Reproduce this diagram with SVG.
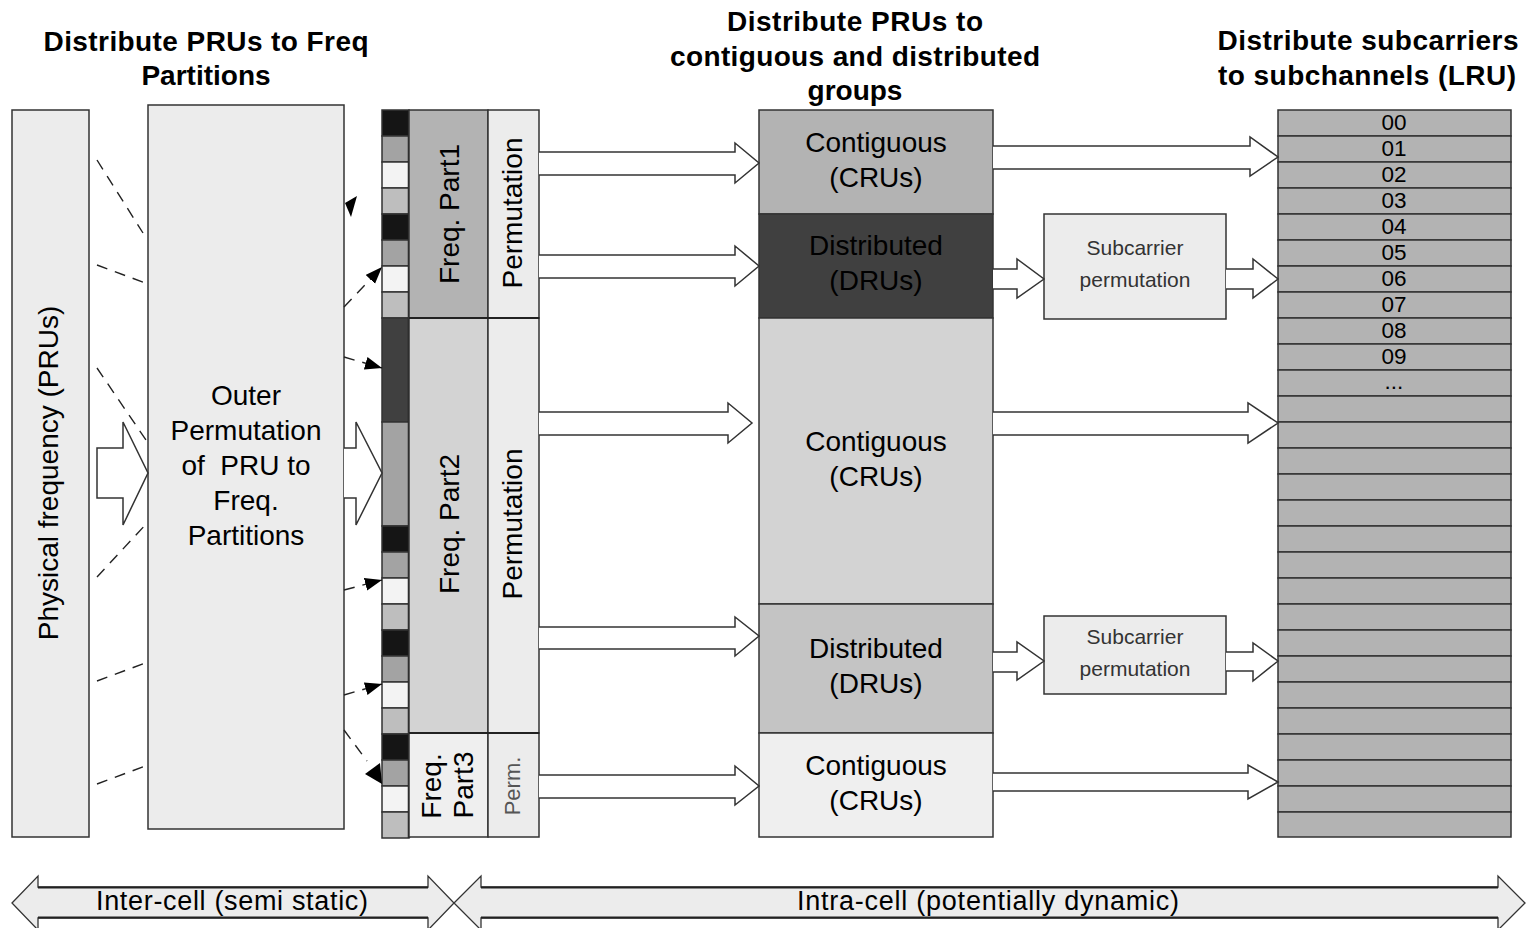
<svg xmlns="http://www.w3.org/2000/svg" width="1528" height="928" viewBox="0 0 1528 928">
<style>
text{font-family:"Liberation Sans",Arial,sans-serif;fill:#000}
.t{font-size:28px;font-weight:bold;text-anchor:middle}
.l{font-size:28px;text-anchor:middle}
.s{font-size:21px;text-anchor:middle;fill:#333}
.n{font-size:22.5px;text-anchor:middle}
.b{stroke:#333;stroke-width:1.5}
.ha{fill:#fff;stroke:#333;stroke-width:1.5}
.dash{fill:none;stroke:#222;stroke-width:1.4;stroke-dasharray:11 8}
.row{fill:#b3b3b3;stroke:#333;stroke-width:1.5}
</style>
<defs>
<marker id="ah" markerUnits="userSpaceOnUse" markerWidth="18" markerHeight="14" refX="17" refY="6.5" orient="auto">
<path d="M0,0 L17,6.5 L0,13 Z" fill="#000"/>
</marker>
</defs>
<rect width="1528" height="928" fill="#fff"/>

<g id="titles">
<text class="t" x="206" y="51" textLength="325">Distribute PRUs to Freq</text>
<text class="t" x="206" y="85">Partitions</text>
<text class="t" x="855" y="31" textLength="256">Distribute PRUs to</text>
<text class="t" x="855" y="66" textLength="370">contiguous and distributed</text>
<text class="t" x="855" y="100">groups</text>
<text class="t" x="1368" y="50" textLength="301">Distribute subcarriers</text>
<text class="t" x="1367" y="85" textLength="298">to subchannels (LRU)</text>
</g>

<g id="physical">
<rect class="b" x="12" y="110" width="77" height="727" fill="#ececec"/>
<text class="l" transform="translate(58,473) rotate(-90)">Physical frequency (PRUs)</text>
</g>

<g id="outer">
<rect class="b" x="148" y="105" width="196" height="724" fill="#ececec"/>
<text class="l" x="246" y="405">Outer</text>
<text class="l" x="246" y="440">Permutation</text>
<text class="l" x="246" y="475" xml:space="preserve">of  PRU to</text>
<text class="l" x="246" y="510">Freq.</text>
<text class="l" x="246" y="545">Partitions</text>
</g>

<g id="strip">
<rect class="b" x="382" y="110" width="27" height="26" fill="#151515"/>
<rect class="b" x="382" y="136" width="27" height="26" fill="#a3a3a3"/>
<rect class="b" x="382" y="162" width="27" height="26" fill="#f3f3f3"/>
<rect class="b" x="382" y="188" width="27" height="26" fill="#bebebe"/>
<rect class="b" x="382" y="214" width="27" height="26" fill="#151515"/>
<rect class="b" x="382" y="240" width="27" height="26" fill="#a3a3a3"/>
<rect class="b" x="382" y="266" width="27" height="26" fill="#f3f3f3"/>
<rect class="b" x="382" y="292" width="27" height="26" fill="#bebebe"/>
<rect class="b" x="382" y="318" width="27" height="104" fill="#404040"/>
<rect class="b" x="382" y="422" width="27" height="104" fill="#a3a3a3"/>
<rect class="b" x="382" y="526" width="27" height="26" fill="#151515"/>
<rect class="b" x="382" y="552" width="27" height="26" fill="#a3a3a3"/>
<rect class="b" x="382" y="578" width="27" height="26" fill="#f3f3f3"/>
<rect class="b" x="382" y="604" width="27" height="26" fill="#bebebe"/>
<rect class="b" x="382" y="630" width="27" height="26" fill="#151515"/>
<rect class="b" x="382" y="656" width="27" height="26" fill="#a3a3a3"/>
<rect class="b" x="382" y="682" width="27" height="26" fill="#f3f3f3"/>
<rect class="b" x="382" y="708" width="27" height="26" fill="#bebebe"/>
<rect class="b" x="382" y="734" width="27" height="26" fill="#151515"/>
<rect class="b" x="382" y="760" width="27" height="26" fill="#a3a3a3"/>
<rect class="b" x="382" y="786" width="27" height="26" fill="#f3f3f3"/>
<rect class="b" x="382" y="812" width="27" height="26" fill="#bebebe"/>
<line x1="409" y1="110" x2="409" y2="838" stroke="#222" stroke-width="2.5"/>
</g>

<g id="part1">
<rect class="b" x="409" y="110" width="79" height="208" fill="#b3b3b3"/>
<rect class="b" x="488" y="110" width="51" height="208" fill="#ececec"/>
<text class="l" transform="translate(459,214) rotate(-90)">Freq. Part1</text>
<text class="l" transform="translate(522,213) rotate(-90)">Permutation</text>
</g>
<g id="part2">
<rect class="b" x="409" y="318" width="79" height="415" fill="#d3d3d3"/>
<rect class="b" x="488" y="318" width="51" height="415" fill="#ececec"/>
<text class="l" transform="translate(459,524) rotate(-90)">Freq. Part2</text>
<text class="l" transform="translate(522,524) rotate(-90)">Permutation</text>
</g>
<g id="part3">
<rect class="b" x="409" y="733" width="79" height="104" fill="#efefef"/>
<rect class="b" x="488" y="733" width="51" height="104" fill="#ececec"/>
<text class="l" transform="translate(441,786) rotate(-90)">Freq.</text>
<text class="l" transform="translate(473,785) rotate(-90)">Part3</text>
<text class="s" style="fill:#555;font-size:22px" transform="translate(520,786) rotate(-90)">Perm.</text>
</g>
<line x1="409" y1="318" x2="539" y2="318" stroke="#222" stroke-width="2.2"/>
<line x1="409" y1="733" x2="539" y2="733" stroke="#222" stroke-width="1.8"/>

<g id="groups">
<rect class="b" x="759" y="110" width="234" height="104" fill="#b3b3b3"/>
<rect class="b" x="759" y="214" width="234" height="104" fill="#404040"/>
<rect class="b" x="759" y="318" width="234" height="286" fill="#d3d3d3"/>
<rect class="b" x="759" y="604" width="234" height="129" fill="#c4c4c4"/>
<rect class="b" x="759" y="733" width="234" height="104" fill="#efefef"/>
<text class="l" x="876" y="152">Contiguous</text>
<text class="l" x="876" y="187">(CRUs)</text>
<text class="l" x="876" y="255">Distributed</text>
<text class="l" x="876" y="290">(DRUs)</text>
<text class="l" x="876" y="451">Contiguous</text>
<text class="l" x="876" y="486">(CRUs)</text>
<text class="l" x="876" y="658">Distributed</text>
<text class="l" x="876" y="693">(DRUs)</text>
<text class="l" x="876" y="775">Contiguous</text>
<text class="l" x="876" y="810">(CRUs)</text>
</g>

<g id="subperm1">
<rect class="b" x="1044" y="214" width="182" height="105" fill="#ececec"/>
<text class="s" x="1135" y="255">Subcarrier</text>
<text class="s" x="1135" y="287">permutation</text>
</g>
<g id="subperm2">
<rect class="b" x="1044" y="616" width="182" height="78" fill="#ececec"/>
<text class="s" x="1135" y="644">Subcarrier</text>
<text class="s" x="1135" y="676">permutation</text>
</g>

<g id="lru">
<rect class="row" x="1278" y="110" width="233" height="26"/>
<rect class="row" x="1278" y="136" width="233" height="26"/>
<rect class="row" x="1278" y="162" width="233" height="26"/>
<rect class="row" x="1278" y="188" width="233" height="26"/>
<rect class="row" x="1278" y="214" width="233" height="26"/>
<rect class="row" x="1278" y="240" width="233" height="26"/>
<rect class="row" x="1278" y="266" width="233" height="26"/>
<rect class="row" x="1278" y="292" width="233" height="26"/>
<rect class="row" x="1278" y="318" width="233" height="26"/>
<rect class="row" x="1278" y="344" width="233" height="26"/>
<rect class="row" x="1278" y="370" width="233" height="26"/>
<rect class="row" x="1278" y="396" width="233" height="26"/>
<rect class="row" x="1278" y="422" width="233" height="26"/>
<rect class="row" x="1278" y="448" width="233" height="26"/>
<rect class="row" x="1278" y="474" width="233" height="26"/>
<rect class="row" x="1278" y="500" width="233" height="26"/>
<rect class="row" x="1278" y="526" width="233" height="26"/>
<rect class="row" x="1278" y="552" width="233" height="26"/>
<rect class="row" x="1278" y="578" width="233" height="26"/>
<rect class="row" x="1278" y="604" width="233" height="26"/>
<rect class="row" x="1278" y="630" width="233" height="26"/>
<rect class="row" x="1278" y="656" width="233" height="26"/>
<rect class="row" x="1278" y="682" width="233" height="26"/>
<rect class="row" x="1278" y="708" width="233" height="26"/>
<rect class="row" x="1278" y="734" width="233" height="26"/>
<rect class="row" x="1278" y="760" width="233" height="26"/>
<rect class="row" x="1278" y="786" width="233" height="26"/>
<rect class="row" x="1278" y="812" width="233" height="25"/>
<text class="n" x="1394" y="130">00</text>
<text class="n" x="1394" y="156">01</text>
<text class="n" x="1394" y="182">02</text>
<text class="n" x="1394" y="208">03</text>
<text class="n" x="1394" y="234">04</text>
<text class="n" x="1394" y="260">05</text>
<text class="n" x="1394" y="286">06</text>
<text class="n" x="1394" y="312">07</text>
<text class="n" x="1394" y="338">08</text>
<text class="n" x="1394" y="364">09</text>
<text class="n" x="1394" y="389">...</text>
</g>

<g id="connectors">
<line class="dash" x1="97" y1="160" x2="143" y2="233"/>
<line class="dash" x1="97" y1="265" x2="148" y2="284"/>
<line class="dash" x1="97" y1="368" x2="148" y2="443"/>
<line class="dash" x1="97" y1="577" x2="148" y2="522"/>
<line class="dash" x1="97" y1="681" x2="148" y2="662"/>
<line class="dash" x1="97" y1="784" x2="148" y2="765"/>
<path class="ha" d="M97,448 L123,448 L123,422 L148,473 L123,525 L123,498 L97,498 Z"/>
<path class="ha" d="M344,448 L356,448 L356,422 L382,473 L356,525 L356,498 L344,498"/>
<polygon points="345,203 357,196 351,217" fill="#000"/>
<line class="dash" x1="344" y1="307" x2="382" y2="267" marker-end="url(#ah)"/>
<line class="dash" x1="344" y1="357" x2="382" y2="368" marker-end="url(#ah)"/>
<line class="dash" x1="344" y1="590" x2="382" y2="580" marker-end="url(#ah)"/>
<line class="dash" x1="344" y1="695" x2="382" y2="684" marker-end="url(#ah)"/>
<line class="dash" x1="344" y1="730" x2="367" y2="761"/>
<polygon points="380,763 365,774 382,784" fill="#000"/>
<path class="ha" d="M539,152 L735,152 L735,143 L759,163 L735,183 L735,175 L539,175"/>
<path class="ha" d="M539,255 L735,255 L735,246 L759,266 L735,286 L735,278 L539,278"/>
<path class="ha" d="M539,412 L728,412 L728,403 L752,423 L728,443 L728,435 L539,435"/>
<path class="ha" d="M539,627 L735,627 L735,617 L759,636 L735,656 L735,649 L539,649"/>
<path class="ha" d="M539,775 L735,775 L735,766 L759,786 L735,805 L735,798 L539,798"/>
<path class="ha" d="M993,146 L1250,146 L1250,137 L1278,157 L1250,176 L1250,169 L993,169"/>
<path class="ha" d="M993,269 L1017,269 L1017,259 L1044,279 L1017,298 L1017,289 L993,289"/>
<path class="ha" d="M1226,269 L1253,269 L1253,259 L1278,279 L1253,298 L1253,289 L1226,289"/>
<path class="ha" d="M993,412 L1248,412 L1248,403 L1278,423 L1248,443 L1248,435 L993,435"/>
<path class="ha" d="M993,652 L1017,652 L1017,642 L1044,661 L1017,680 L1017,672 L993,672"/>
<path class="ha" d="M1226,652 L1253,652 L1253,643 L1278,661 L1253,681 L1253,671 L1226,671"/>
<path class="ha" d="M993,773 L1248,773 L1248,765 L1278,782 L1248,799 L1248,791 L993,791"/>
</g>

<g id="inter-cell">
<path d="M12,903 L38,876 L38,887 L428,887 L428,876 L454,903 L428,930 L428,918 L38,918 L38,930 Z" fill="#ececec" stroke="#333" stroke-width="1.3"/>
<line x1="38" y1="887.5" x2="428" y2="887.5" stroke="#222" stroke-width="2.2"/>
<line x1="38" y1="917.5" x2="428" y2="917.5" stroke="#222" stroke-width="2.2"/>
<text class="l" style="font-size:27px" x="232" y="910" textLength="272">Inter-cell (semi static)</text>
</g>
<g id="intra-cell">
<path d="M454,903 L481,876 L481,887 L1498,887 L1498,876 L1525,903 L1498,930 L1498,918 L481,918 L481,930 Z" fill="#ececec" stroke="#333" stroke-width="1.3"/>
<line x1="481" y1="887.5" x2="1498" y2="887.5" stroke="#222" stroke-width="2.2"/>
<line x1="481" y1="917.5" x2="1498" y2="917.5" stroke="#222" stroke-width="2.2"/>
<text class="l" style="font-size:27px" x="988" y="910" textLength="382">Intra-cell (potentially dynamic)</text>
</g>
</svg>
